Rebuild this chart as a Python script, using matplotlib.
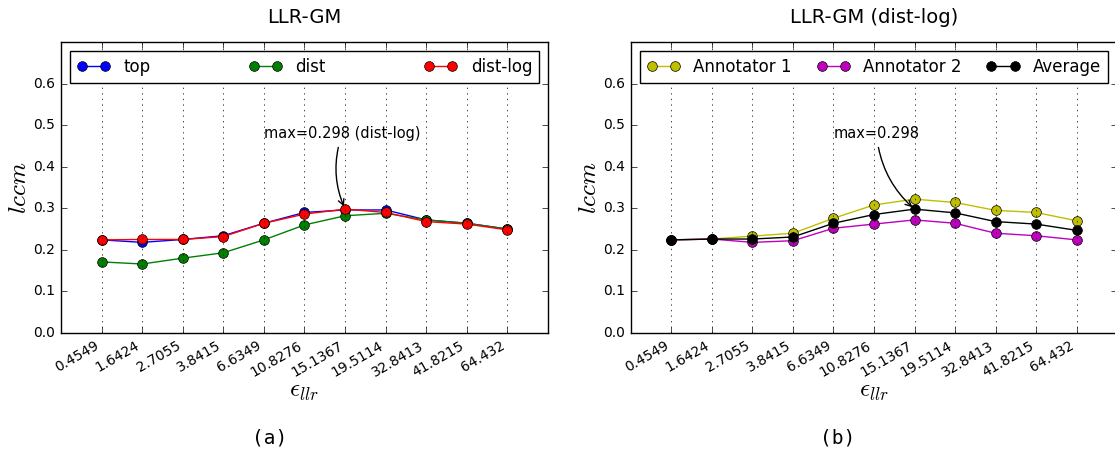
import numpy as np
import matplotlib
matplotlib.use('Agg')
import matplotlib.pyplot as plt

plt.style.use('classic')
plt.rcParams['mathtext.fontset'] = 'cm'
plt.rcParams['figure.facecolor'] = 'white'

# epsilon_llr thresholds (categorical x axis)
eps_labels = ['0.4549', '1.6424', '2.7055', '3.8415', '6.6349', '10.8276',
              '15.1367', '19.5114', '32.8413', '41.8215', '64.432']

# (a) LLR-GM
top = [0.224, 0.218, 0.225, 0.234, 0.264, 0.290, 0.296, 0.296, 0.272, 0.264, 0.250]
dist = [0.171, 0.166, 0.180, 0.193, 0.224, 0.260, 0.282, 0.288, 0.272, 0.264, 0.250]
dist_log = [0.224, 0.225, 0.225, 0.232, 0.264, 0.286, 0.298, 0.290, 0.268, 0.262, 0.248]

# (b) LLR-GM (dist-log)
annot1 = [0.224, 0.226, 0.233, 0.240, 0.276, 0.308, 0.322, 0.314, 0.295, 0.290, 0.270]
annot2 = [0.224, 0.226, 0.218, 0.222, 0.252, 0.262, 0.272, 0.264, 0.240, 0.234, 0.224]
average = [0.224, 0.226, 0.226, 0.231, 0.264, 0.285, 0.298, 0.289, 0.268, 0.262, 0.247]

x = np.arange(len(eps_labels))

fig = plt.figure(figsize=(11.15, 4.53), dpi=100)
ax1 = fig.add_axes([61 / 1115, 120 / 453, 487 / 1115, 291 / 453])
ax2 = fig.add_axes([631 / 1115, 120 / 453, 486 / 1115, 291 / 453])


def style_axes(ax, title):
    ax.set_xlim(-1, len(eps_labels))
    ax.set_ylim(0.0, 0.7)
    ax.set_yticks(np.arange(0.0, 0.61, 0.1))
    ax.set_xticks(x)
    ax.set_xticklabels(eps_labels, rotation=30, ha='right')
    ax.tick_params(labelsize=10)
    ax.xaxis.grid(True, linestyle=':', color='k')
    ax.set_title(title, fontsize=14, y=1.04)
    ax.set_xlabel(r'$\epsilon_{llr}$', fontsize=18, labelpad=0)
    ax.set_ylabel(r'$lccm$', fontsize=18, labelpad=2)
    ax.legend(loc='upper left', bbox_to_anchor=(0.0, 0.0, 1.0, 1.0),
              mode='expand', ncol=3, numpoints=2, fontsize=12,
              borderaxespad=0.55, handlelength=2.0, fancybox=False)


ax1.plot(x, top, 'b-o', ms=7, label='top')
ax1.plot(x, dist, 'g-o', ms=7, label='dist')
ax1.plot(x, dist_log, 'r-o', ms=7, label='dist-log')
style_axes(ax1, 'LLR-GM')
ax1.annotate('max=0.298 (dist-log)', xy=(6, max(dist_log)), xytext=(4.0, 0.468),
             fontsize=10.5, arrowprops=dict(arrowstyle='->', color='k',
                                            connectionstyle='arc3,rad=0.2'))

ax2.plot(x, annot1, 'y-o', ms=7, label='Annotator 1')
ax2.plot(x, annot2, 'm-o', ms=7, label='Annotator 2')
ax2.plot(x, average, 'k-o', ms=7, label='Average')
style_axes(ax2, 'LLR-GM (dist-log)')
ax2.annotate('max=0.298', xy=(6, max(average)), xytext=(4.0, 0.468),
             fontsize=10.5, arrowprops=dict(arrowstyle='->', color='k',
                                            connectionstyle='arc3,rad=0.2'))

fig.text(270 / 1115, 1 - 438 / 453, '(a)', family='DejaVu Sans Mono',
         fontsize=14, ha='center', va='center')
fig.text(838 / 1115, 1 - 438 / 453, '(b)', family='DejaVu Sans Mono',
         fontsize=14, ha='center', va='center')

fig.savefig('out.png', dpi=100, facecolor='white')
